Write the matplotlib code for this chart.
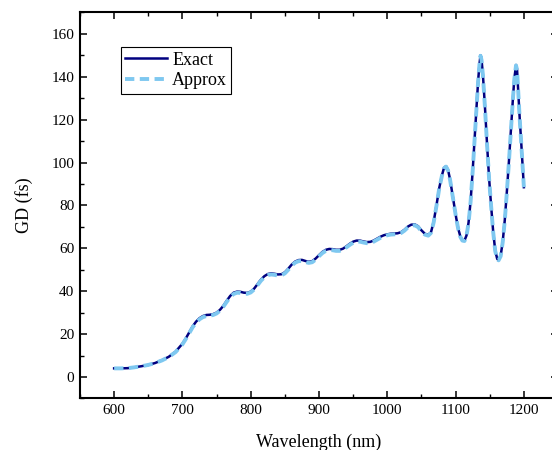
import matplotlib
matplotlib.use('Agg')
import matplotlib.pyplot as plt
from matplotlib.ticker import MultipleLocator

plt.rcParams['font.family'] = ['Liberation Serif', 'DejaVu Serif']

# data
wavelength = [600, 610, 620, 630, 640, 650, 660, 670, 680, 690,
              700, 705, 710, 715, 720, 725, 730, 735, 740, 745,
              750, 755, 760, 765, 770, 775, 780, 785, 790, 795,
              800, 805, 810, 815, 820, 825, 830, 835, 840, 845,
              850, 855, 860, 865, 870, 875, 880, 885, 890, 895,
              900, 905, 910, 915, 920, 925, 930, 935, 940, 945,
              950, 955, 960, 965, 970, 975, 980, 985, 990, 995,
              1000, 1005, 1010, 1015, 1020, 1025, 1030, 1035, 1040, 1045,
              1050, 1055, 1060, 1064, 1068, 1072, 1076, 1080, 1083, 1086,
              1089, 1092, 1095, 1098, 1101, 1104, 1107, 1110, 1113, 1116,
              1119, 1122, 1125, 1128, 1131, 1133, 1135, 1136.5, 1138, 1140,
              1143, 1146, 1149, 1152, 1155, 1158, 1161, 1163, 1166, 1169,
              1172, 1175, 1178, 1181, 1184, 1186, 1188.5, 1190, 1192, 1194,
              1196, 1198, 1200]

gd_exact = [4.0, 4.0, 4.1, 4.5, 5.0, 5.6, 6.5, 7.8, 9.4, 11.8,
            15.5, 18.0, 20.8, 23.6, 25.8, 27.4, 28.4, 28.9, 29.0, 29.3,
            30.0, 31.3, 33.2, 35.6, 37.8, 39.3, 39.8, 39.7, 39.3, 39.2,
            39.8, 41.2, 43.3, 45.4, 47.0, 48.0, 48.3, 48.1, 47.8, 47.9,
            48.8, 50.5, 52.4, 53.8, 54.5, 54.6, 54.1, 53.7, 54.0, 55.2,
            56.8, 58.3, 59.3, 59.7, 59.6, 59.3, 59.3, 59.8, 60.9, 62.1,
            63.1, 63.6, 63.6, 63.2, 62.9, 63.0, 63.6, 64.5, 65.4, 66.1,
            66.5, 66.8, 66.9, 67.0, 67.5, 68.6, 70.1, 71.0, 71.2, 70.3,
            68.4, 66.8, 66.3, 67.5, 72.5, 80.0, 88.0, 94.0, 97.5, 98.3,
            96.5, 92.0, 86.0, 80.0, 74.0, 69.0, 65.5, 63.8, 63.6, 66.0,
            72.0, 82.0, 96.0, 112.0, 128.0, 138.0, 146.0, 150.0, 148.0, 141.0,
            126.0, 109.0, 93.0, 80.0, 68.0, 59.0, 55.0, 54.6, 56.5, 63.0,
            73.0, 86.0, 100.0, 115.0, 130.0, 139.0, 145.5, 143.5, 132.0, 120.0,
            110.0, 99.0, 88.5]

gd_approx = [4.0, 4.0, 4.1, 4.5, 5.0, 5.6, 6.5, 7.7, 9.3, 11.6,
             15.2, 17.7, 20.4, 23.2, 25.3, 26.9, 27.9, 28.4, 28.6, 28.9,
             29.6, 30.9, 32.8, 35.1, 37.3, 38.7, 39.3, 39.2, 38.8, 38.8,
             39.4, 40.8, 42.8, 44.9, 46.5, 47.5, 47.8, 47.6, 47.3, 47.4,
             48.3, 50.0, 51.9, 53.3, 54.0, 54.1, 53.6, 53.2, 53.5, 54.7,
             56.3, 57.8, 58.8, 59.2, 59.1, 58.8, 58.8, 59.3, 60.4, 61.6,
             62.6, 63.1, 63.1, 62.7, 62.4, 62.5, 63.1, 64.0, 64.9, 65.6,
             66.1, 66.4, 66.5, 66.6, 67.1, 68.2, 69.7, 70.6, 70.8, 69.9,
             68.0, 66.4, 65.9, 67.2, 72.2, 79.8, 87.8, 93.8, 97.3, 98.1,
             96.3, 91.8, 85.8, 79.8, 73.8, 68.8, 65.3, 63.6, 63.4, 65.8,
             71.8, 81.8, 95.8, 111.8, 127.8, 137.8, 145.8, 149.8, 147.8, 140.8,
             125.8, 108.8, 92.8, 79.8, 67.8, 58.8, 54.8, 54.4, 56.3, 62.8,
             72.8, 85.8, 99.8, 114.8, 129.8, 138.8, 145.3, 143.3, 131.8, 119.8,
             109.8, 98.8, 88.5]

fig = plt.figure(figsize=(5.52, 4.5), dpi=100)
ax = fig.add_axes([0.1449, 0.1147, 0.866, 0.8576])

ax.plot(wavelength, gd_exact, color='#000080', linewidth=1.8, label='Exact')
ax.plot(wavelength, gd_approx, color='#7ec8f0', linewidth=2.8,
        linestyle=(0, (2.4, 1.4)), label='Approx')

ax.set_xlim(550, 1250)
ax.set_ylim(-10, 170)
ax.set_xticks([600, 700, 800, 900, 1000, 1100, 1200])
ax.set_yticks([0, 20, 40, 60, 80, 100, 120, 140, 160])
ax.xaxis.set_minor_locator(MultipleLocator(50))
ax.yaxis.set_minor_locator(MultipleLocator(10))

ax.tick_params(which='both', direction='in', top=True, right=True,
               labelsize=11, colors='black', pad=4)
ax.tick_params(which='major', length=5, width=1.1)
ax.tick_params(which='minor', length=3, width=1.0)
for s in ax.spines.values():
    s.set_linewidth(1.5)
# right edge of the frame falls outside the picture in the original
ax.spines['right'].set_visible(False)

ax.set_xlabel('Wavelength (nm)', fontsize=13, labelpad=12)
ax.set_ylabel('GD (fs)', fontsize=13, labelpad=13)

leg = ax.legend(loc='upper left', bbox_to_anchor=(0.085, 0.91), borderaxespad=0,
                fontsize=13, fancybox=False, framealpha=1, edgecolor='black',
                handlelength=2.3, handletextpad=0.3, borderpad=0.25,
                labelspacing=0.2)
leg.get_frame().set_linewidth(0.8)

plt.savefig('out.png', dpi=100)
